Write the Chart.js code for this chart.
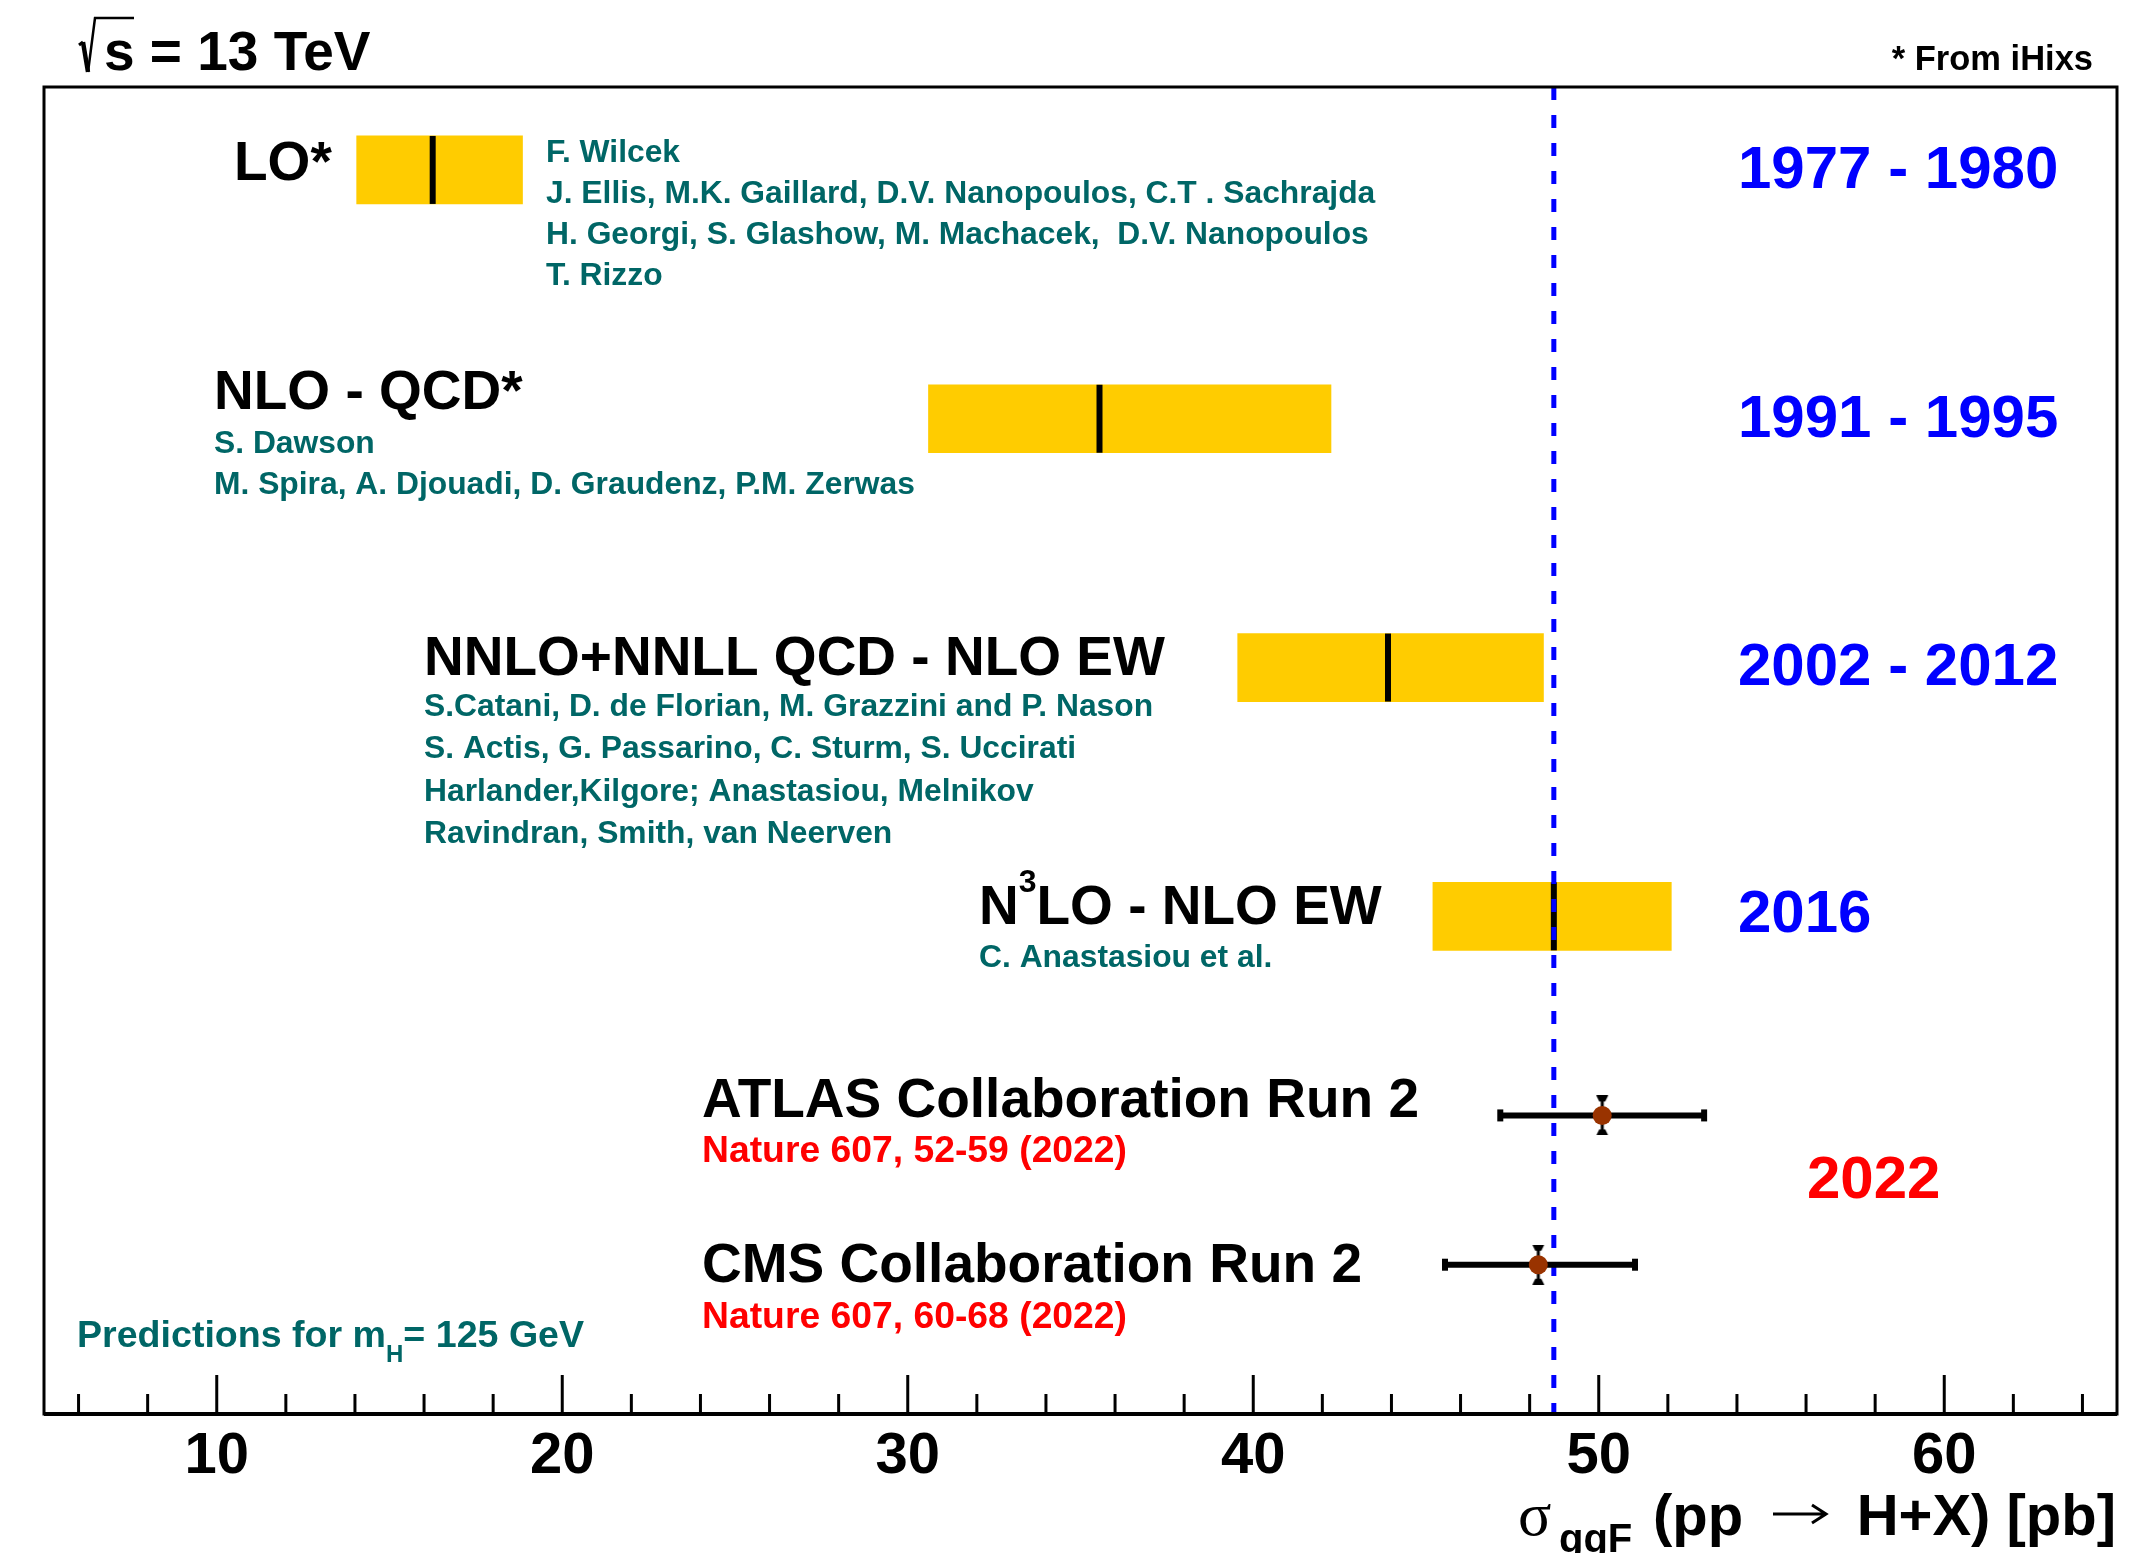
<!DOCTYPE html>
<html>
<head>
<meta charset="utf-8">
<script src="https://cdn.jsdelivr.net/npm/chart.js@4.4.1/dist/chart.umd.min.js"></script>
<style>
  html, body { margin: 0; background: #fff; }
  canvas { display: block; }
</style>
</head>
<body>
<canvas id="xsec" width="2142" height="1553"></canvas>
<script>
// ─── DATA ─────────────────────────────────────────────────────────────────────
// ggF Higgs cross section predictions (central value and scale band, pb)
const PRED_TITLES  = ['LO*', 'NLO - QCD*', 'NNLO+NNLL QCD - NLO EW', 'N3LO - NLO EW'];
const PRED_CENTRAL = [16.25, 35.55, 43.9, 48.7];
const PRED_LOW     = [14.05, 30.6, 39.55, 45.2];
const PRED_HIGH    = [18.85, 42.25, 48.4, 52.1];
const PRED_ROW     = [0, 1, 2, 3];
const PRED_YEARS   = ['1977 - 1980', '1991 - 1995', '2002 - 2012', '2016'];
const PRED_AUTHORS = [
  ['F. Wilcek',
   'J. Ellis, M.K. Gaillard, D.V. Nanopoulos, C.T . Sachrajda',
   'H. Georgi, S. Glashow, M. Machacek,  D.V. Nanopoulos',
   'T. Rizzo'],
  ['S. Dawson',
   'M. Spira, A. Djouadi, D. Graudenz, P.M. Zerwas'],
  ['S.Catani, D. de Florian, M. Grazzini and P. Nason',
   'S. Actis, G. Passarino, C. Sturm, S. Uccirati',
   'Harlander,Kilgore; Anastasiou, Melnikov',
   'Ravindran, Smith, van Neerven'],
  ['C. Anastasiou et al.']
];

// measurements (central value and total uncertainty, pb)
const MEAS_TITLES  = ['ATLAS Collaboration Run 2', 'CMS Collaboration Run 2'];
const MEAS_REFS    = ['Nature 607, 52-59 (2022)', 'Nature 607, 60-68 (2022)'];
const MEAS_CENTRAL = [50.1, 48.25];
const MEAS_LOW     = [47.15, 45.55];
const MEAS_HIGH    = [53.05, 51.05];
const MEAS_ROW     = [3.8, 4.4];
const MEAS_YEAR    = '2022';

const REF_LINE = 48.7;   // N3LO central value, dashed line

// axis
const X_MIN = 5, X_MAX = 65;
const Y_MIN = -1 / 3, Y_MAX = 5;
const MAJOR_TICKS = [10, 20, 30, 40, 50, 60];
const TICK_VALUES = [6, 8, 10, 12, 14, 16, 18, 20, 22, 24, 26, 28, 30, 32, 34, 36, 38, 40,
                     42, 44, 46, 48, 50, 52, 54, 56, 58, 60, 62, 64];

// ─── STYLE ────────────────────────────────────────────────────────────────────
const FONT   = '"Liberation Sans", Arial, Helvetica, sans-serif';
const SERIF  = '"Liberation Serif", "Times New Roman", serif';
const TEAL   = '#006666';
const BLUE   = '#0000ff';
const RED    = '#ff0000';
const YELLOW = '#ffcc00';

// small I-beam drawn at the measured points
function makeIBeam() {
  const c = document.createElement('canvas');
  c.width = 14; c.height = 40;
  const g = c.getContext('2d');
  g.fillStyle = '#000';
  g.fillRect(5.5, 2, 3, 36);
  g.beginPath(); g.moveTo(1, 0); g.lineTo(13, 0); g.lineTo(10, 6); g.lineTo(4, 6); g.fill();
  g.beginPath(); g.moveTo(1, 40); g.lineTo(13, 40); g.lineTo(10, 34); g.lineTo(4, 34); g.fill();
  return c;
}

function put(ctx, s, x, y, size, color, opt = {}) {
  ctx.font = `${opt.weight || 'bold'} ${size}px ${opt.family || FONT}`;
  ctx.fillStyle = color;
  ctx.textAlign = opt.align || 'left';
  ctx.textBaseline = 'alphabetic';
  ctx.fillText(s, x, y);
  return x + ctx.measureText(s).width;
}

// ─── FRAME + INWARD TICKS ─────────────────────────────────────────────────────
const framePlugin = {
  id: 'frame',
  afterDatasetsDraw(chart) {
    const { ctx, chartArea: a, scales: { x } } = chart;
    ctx.save();
    ctx.strokeStyle = '#000';
    ctx.lineWidth = 3;
    ctx.strokeRect(a.left, a.top, a.right - a.left, a.bottom - a.top);
    ctx.lineWidth = 4;
    ctx.beginPath(); ctx.moveTo(a.left, a.bottom); ctx.lineTo(a.right, a.bottom); ctx.stroke();
    ctx.lineWidth = 3;
    TICK_VALUES.forEach(v => {
      const px = x.getPixelForValue(v);
      const len = MAJOR_TICKS.includes(v) ? 39 : 20;
      ctx.beginPath(); ctx.moveTo(px, a.bottom); ctx.lineTo(px, a.bottom - len); ctx.stroke();
    });
    ctx.restore();
  }
};

// ─── TEXT ANNOTATIONS ─────────────────────────────────────────────────────────
const TITLE_POS  = [[234, 180], [214, 409], [424, 675], [979, 924]];
const AUTHOR_POS = [[546, 162, 41], [214, 453, 41], [424, 716, 42.3], [979, 967, 0]];
const YEAR_BASE  = [188, 437, 685, 932];
const MEAS_POS   = [[702, 1117, 1162], [702, 1282, 1328]];

const textPlugin = {
  id: 'texts',
  afterDraw(chart) {
    const ctx = chart.ctx;
    ctx.save();

    // prediction titles, authors, years
    PRED_TITLES.forEach((t, i) => {
      const [x, y] = TITLE_POS[i];
      if (t.startsWith('N3LO')) {
        let nx = put(ctx, 'N', x, y, 55, '#000');
        nx = put(ctx, '3', nx, y - 32, 32, '#000');
        put(ctx, t.slice(2), nx, y, 55, '#000');
      } else {
        put(ctx, t, x, y, 55, '#000');
      }
      const [ax, ay, step] = AUTHOR_POS[i];
      PRED_AUTHORS[i].forEach((s, k) => put(ctx, s, ax, ay + k * step, 31.8, TEAL));
      put(ctx, PRED_YEARS[i], 1738, YEAR_BASE[i], 60, BLUE);
    });

    // measurements
    MEAS_TITLES.forEach((t, i) => {
      const [x, y1, y2] = MEAS_POS[i];
      put(ctx, t, x, y1, 55, '#000');
      put(ctx, MEAS_REFS[i], x, y2, 37.3, RED);
    });
    put(ctx, MEAS_YEAR, 1807, 1198, 60, RED);

    // mH note
    let px = put(ctx, 'Predictions for m', 77, 1347, 37.6, TEAL);
    px = put(ctx, 'H', px, 1362, 24, TEAL);
    put(ctx, '= 125 GeV', px, 1347, 37.6, TEAL);

    // sqrt(s) label
    ctx.strokeStyle = '#000';
    ctx.lineJoin = 'miter';
    ctx.lineWidth = 3;
    ctx.beginPath();
    ctx.moveTo(79, 45); ctx.lineTo(83, 42);
    ctx.stroke();
    ctx.lineWidth = 4.5;
    ctx.beginPath(); ctx.moveTo(83, 42); ctx.lineTo(88, 72); ctx.stroke();
    ctx.lineWidth = 2.5;
    ctx.beginPath(); ctx.moveTo(88, 72); ctx.lineTo(95, 18); ctx.lineTo(134, 18); ctx.stroke();
    put(ctx, 's = 13 TeV', 104, 70, 55, '#000');

    put(ctx, '* From iHixs', 2093, 70, 34.5, '#000', { align: 'right' });

    // x axis title: sigma_ggF (pp -> H+X) [pb]
    put(ctx, '\u03c3', 1518, 1535, 62, '#000', { weight: 'normal', family: SERIF });
    put(ctx, 'ggF', 1559, 1552, 40, '#000');
    put(ctx, '(pp', 1653, 1535, 58, '#000');
    ctx.lineWidth = 3;
    ctx.beginPath();
    ctx.moveTo(1773, 1514); ctx.lineTo(1826, 1514);
    ctx.moveTo(1812, 1505); ctx.lineTo(1826, 1514); ctx.lineTo(1812, 1523);
    ctx.stroke();
    put(ctx, 'H+X) [pb]', 2116, 1535, 58, '#000', { align: 'right' });

    ctx.restore();
  }
};

// ─── CHART ────────────────────────────────────────────────────────────────────
const IBEAM = makeIBeam();

new Chart(document.getElementById('xsec'), {
  type: 'scatter',
  data: {
    datasets: [
      {
        type: 'bar',
        indexAxis: 'y',
        data: PRED_ROW.map((r, i) => ({ x: [PRED_LOW[i], PRED_HIGH[i]], y: r })),
        backgroundColor: YELLOW,
        borderWidth: 0,
        barThickness: 68,
        order: 6
      },
      {
        data: PRED_ROW.map((r, i) => ({ x: PRED_CENTRAL[i], y: r })),
        pointStyle: 'line',
        pointRotation: 90,
        pointRadius: 34,
        pointBorderWidth: 6,
        pointBorderColor: '#000',
        order: 5
      },
      {
        type: 'line',
        data: [{ x: REF_LINE, y: Y_MIN }, { x: REF_LINE, y: Y_MAX }],
        borderColor: BLUE,
        borderWidth: 5,
        borderDash: [13, 15],
        pointRadius: 0,
        fill: false,
        order: 4
      },
      ...MEAS_ROW.map((r, i) => ({
        type: 'line',
        data: [{ x: MEAS_LOW[i], y: r }, { x: MEAS_HIGH[i], y: r }],
        borderColor: '#000',
        borderWidth: 6,
        pointStyle: 'line',
        pointRotation: 90,
        pointRadius: 6,
        pointBorderWidth: 6,
        pointBorderColor: '#000',
        fill: false,
        order: 3
      })),
      {
        data: MEAS_ROW.map((r, i) => ({ x: MEAS_CENTRAL[i], y: r })),
        pointStyle: IBEAM,
        order: 2
      },
      {
        data: MEAS_ROW.map((r, i) => ({ x: MEAS_CENTRAL[i], y: r })),
        pointStyle: 'circle',
        pointRadius: 9.5,
        pointBackgroundColor: '#993300',
        pointBorderWidth: 0,
        order: 1
      }
    ]
  },
  options: {
    responsive: false,
    animation: false,
    events: [],
    layout: { autoPadding: false, padding: { left: 44, right: 25, top: 87, bottom: 0 } },
    plugins: {
      legend: { display: false },
      tooltip: { enabled: false }
    },
    scales: {
      x: {
        type: 'linear',
        min: X_MIN,
        max: X_MAX,
        offset: false,
        afterBuildTicks: s => { s.ticks = TICK_VALUES.map(v => ({ value: v })); },
        afterFit: s => { s.height = 139; },
        grid: { display: false, drawTicks: false },
        border: { display: false },
        ticks: {
          autoSkip: false,
          maxRotation: 0,
          padding: 8,
          color: '#000',
          font: { family: FONT, size: 58, weight: 'bold' },
          callback: v => MAJOR_TICKS.includes(v) ? String(v) : ''
        }
      },
      y: {
        type: 'linear',
        min: Y_MIN,
        max: Y_MAX,
        offset: false,
        reverse: true,
        display: false
      }
    }
  },
  plugins: [framePlugin, textPlugin]
});
</script>
</body>
</html>
